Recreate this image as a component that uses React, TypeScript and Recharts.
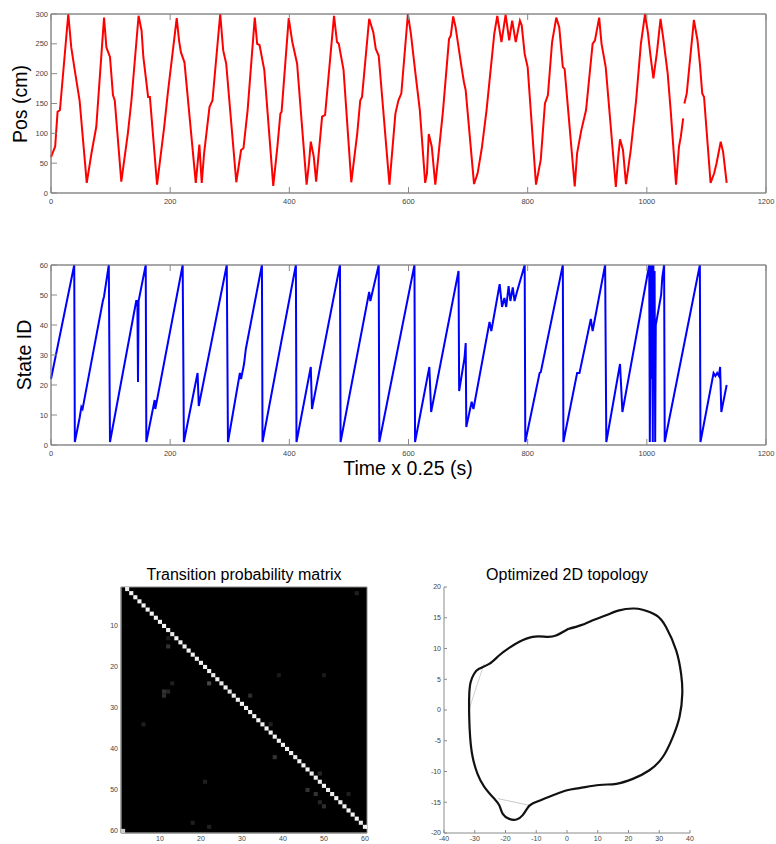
import React from "react";
import { LineChart, Line, XAxis, YAxis, ScatterChart, Scatter, ReferenceArea } from "recharts";

// axis ticks
const timeTicks = [0, 200, 400, 600, 800, 1000, 1200];
const posTicks = [0, 50, 100, 150, 200, 250, 300];
const stateTicks = [0, 10, 20, 30, 40, 50, 60];
const matrixTicks = [10, 20, 30, 40, 50, 60];
const topoXTicks = [-40, -30, -20, -10, 0, 10, 20, 30, 40];
const topoYTicks = [-20, -15, -10, -5, 0, 5, 10, 15, 20];

// position (cm) over time; null = gap in the trace
const posTrace: [number, number | null][] = [
  [0, 60], [7, 78], [11, 136], [15, 139], [29, 300], [34, 244], [40, 205], [48, 155], [60, 17],
  [68, 67], [76, 111], [89, 294], [93, 244], [99, 228], [104, 164], [107, 155], [118, 19],
  [129, 100], [135, 155], [147, 297], [152, 272], [155, 228], [163, 161], [166, 161], [178, 14],
  [190, 111], [196, 167], [211, 293], [215, 255], [218, 236], [224, 219], [243, 17], [249, 81],
  [253, 17], [257, 67], [266, 144], [271, 155], [284, 300], [289, 239], [294, 217], [311, 18],
  [319, 72], [323, 75], [330, 139], [342, 294], [346, 250], [350, 248], [358, 206], [373, 12],
  [380, 78], [385, 133], [387, 136], [399, 293], [405, 253], [413, 217], [429, 14], [433, 50],
  [436, 86], [441, 61], [445, 19], [455, 128], [460, 131], [475, 297], [480, 253], [483, 250],
  [491, 206], [504, 18], [514, 100], [519, 155], [522, 161], [534, 292], [541, 269], [545, 242],
  [550, 230], [568, 14], [578, 133], [583, 155], [588, 167], [599, 300], [604, 267], [611, 206],
  [619, 139], [628, 17], [631, 33], [634, 99], [639, 78], [645, 14], [650, 61], [658, 139],
  [668, 258], [671, 264], [675, 296], [679, 278], [689, 211], [693, 186], [696, 172], [710, 15],
  [716, 33], [723, 75], [731, 139], [744, 267], [749, 297], [756, 253], [763, 299], [769, 256],
  [774, 289], [780, 253], [787, 289], [790, 281], [795, 233], [800, 211], [814, 14], [822, 56],
  [829, 150], [834, 164], [841, 253], [848, 294], [853, 278], [859, 211], [862, 208], [879, 11],
  [883, 67], [890, 105], [898, 139], [909, 250], [913, 256], [920, 294], [924, 250], [931, 211],
  [948, 10], [952, 61], [955, 90], [960, 72], [965, 15], [973, 72], [982, 155], [990, 250],
  [997, 300], [1002, 267], [1006, 231], [1011, 192], [1017, 236], [1023, 292], [1028, 256],
  [1035, 200], [1040, 139], [1049, 14], [1054, 78], [1057, 94], [1061, 125], [1062, null],
  [1063, 150], [1067, 167], [1079, 290], [1085, 256], [1089, 217], [1093, 167], [1096, 161],
  [1107, 17], [1113, 33], [1117, 50], [1124, 86], [1128, 69], [1134, 17],
];

// decoded state id over time
const stateTrace: [number, number][] = [
  [0, 22], [39, 60], [40, 1], [48, 9], [51, 12.7], [53, 12], [87, 48], [89, 49.5], [97, 60],
  [99, 1], [143, 48], [145, 48], [146, 21], [147, 48], [149, 50], [159, 60], [160, 1], [174, 15],
  [175, 12], [177, 14], [221, 60], [223, 1], [246, 24], [248, 13], [295, 60], [297, 1], [317, 24],
  [319, 22], [324, 27], [327, 32], [354, 60], [355, 1], [388, 36], [390, 38], [411, 60], [412, 1],
  [436, 26], [438, 12], [485, 60], [486, 1], [534, 51], [536, 48], [550, 60], [551, 1], [610, 60],
  [611, 1], [635, 26], [638, 11], [684, 58], [685, 18], [694, 29], [696, 34], [697, 6], [706, 14.4],
  [709, 12], [736, 41], [739, 38], [753, 53.6], [757, 46], [761, 49], [764, 46], [768, 53], [771, 48],
  [775, 52.5], [778, 48], [782, 51], [795, 60], [796, 1], [820, 24], [822, 24.3], [859, 60],
  [860, 1], [883, 24], [887, 24], [906, 42], [909, 38], [930, 60], [932, 1], [955, 27], [959, 11],
  [1004, 60], [1005, 1], [1007, 60], [1008, 22], [1009, 60], [1010, 1], [1011, 60], [1012, 20],
  [1013, 58], [1014, 1], [1015, 40], [1024, 50], [1026, 56], [1029, 60], [1030, 1], [1089, 60],
  [1090, 1], [1112, 24], [1115, 23], [1118, 24], [1121, 23], [1123, 26], [1125, 11], [1134, 20],
];

// transition probability from state i to state i+1 (last row wraps to state 1)
const nextStateProb = [
  0.93, 0.95, 0.95, 0.94, 0.95, 0.95, 0.95, 0.95, 0.95, 0.95,
  0.94, 0.9, 0.95, 0.95, 0.93, 0.95, 0.95, 0.95, 0.95, 0.95,
  0.95, 0.92, 0.95, 0.9, 0.95, 0.9, 0.93, 0.95, 0.95, 0.95,
  0.95, 0.95, 0.95, 0.93, 0.95, 0.95, 0.95, 0.95, 0.95, 0.95,
  0.95, 0.93, 0.95, 0.95, 0.95, 0.93, 0.95, 0.93, 0.95, 0.92,
  0.92, 0.95, 0.93, 0.93, 0.95, 0.95, 0.95, 0.93, 0.95, 0.8,
];

// other non-zero entries: [row, col, prob]
const offDiagProb: [number, number, number][] = [
  [2, 58, 0.12], [13, 12, 0.1], [15, 12, 0.2], [24, 13, 0.12], [24, 22, 0.28], [26, 11, 0.2],
  [26, 12, 0.15], [27, 11, 0.18], [27, 32, 0.18], [22, 39, 0.1], [22, 50, 0.1], [34, 6, 0.12],
  [34, 37, 0.12], [42, 38, 0.2], [46, 49, 0.15], [48, 21, 0.12], [50, 46, 0.2], [51, 48, 0.2],
  [51, 56, 0.12], [53, 49, 0.15], [54, 50, 0.18], [58, 18, 0.12], [59, 22, 0.12],
];

// 2D embedding of the states (closed loop)
const topoLoop: [number, number][] = [
  [0.5, 13.2], [-3.6, 12.1], [-6.8, 11.9], [-11.2, 11.9], [-15.5, 11.1], [-18.8, 10.1],
  [-22, 8.9], [-25.3, 7.5], [-28.6, 6.7], [-30.2, 5.9], [-31.3, 4.6], [-31.8, 2.4],
  [-31.8, -1.1], [-31.5, -4.4], [-30.7, -7.6], [-29.1, -10.4], [-26.9, -12.5], [-23.7, -14.4],
  [-22, -15.5], [-20.9, -16.9], [-18.8, -17.7], [-16.4, -17.8], [-14.4, -17.1], [-12.8, -15.9],
  [-11.2, -15.2], [-6.8, -14.3], [-0.3, -13.1], [4, -12.7], [10.5, -12.2], [16, -12],
  [21.4, -11.2], [26.8, -9.8], [31.2, -7.6], [34.4, -4.4], [36.6, -1.1], [37.5, 2.7],
  [37.1, 5.9], [35.5, 9.7], [32.2, 13.5], [29, 15.4], [24.6, 16.3], [21.4, 16.5], [17, 16.2],
  [12.7, 15.4], [8.4, 14.6], [4.6, 13.8], [0.5, 13.2],
];
const topoChordA: [number, number][] = [[-27, 7.5], [-31.9, 0]];
const topoChordB: [number, number][] = [[-22.5, -14.4], [-12.3, -15.5]];

const FONT = "'Liberation Sans', Arial, Helvetica, sans-serif";
const FRAME = "#8a8a8a";

const posData = posTrace.map(([t, v]) => ({ t, pos: v }));
const stateData = stateTrace.map(([t, v]) => ({ t, state: v }));
const cells = [
  ...nextStateProb.map((p, i) => ({ row: i + 1, col: (i + 1) % 60 + 1, p })),
  ...offDiagProb.map(([row, col, p]) => ({ row, col, p })),
];
const loopData = topoLoop.map(([x, y]) => ({ x, y }));
const chordA = topoChordA.map(([x, y]) => ({ x, y }));
const chordB = topoChordB.map(([x, y]) => ({ x, y }));

// matlab-style inward ticks
const inTick =
  (side: string, gap: number, len: number, show: boolean, fs = 7.5) =>
  (props: any) => {
    const { x, y, payload } = props;
    const txt = { fontSize: fs, fill: "#444", stroke: "none", fontFamily: FONT };
    if (side === "bottom") {
      const ay = y - gap;
      return (
        <g>
          {len > 0 && <line x1={x} x2={x} y1={ay} y2={ay - len} stroke={FRAME} />}
          {show && <text x={x} y={y + fs * 0.8} textAnchor="middle" {...txt}>{payload.value}</text>}
        </g>
      );
    }
    if (side === "top") {
      const ay = y + gap;
      return <line x1={x} x2={x} y1={ay} y2={ay + len} stroke={FRAME} />;
    }
    if (side === "left") {
      const ax = x + gap;
      return (
        <g>
          {len > 0 && <line x1={ax} x2={ax + len} y1={y} y2={y} stroke={FRAME} />}
          {show && <text x={x} y={y + fs * 0.35} textAnchor="end" {...txt}>{payload.value}</text>}
        </g>
      );
    }
    const ax = x - gap;
    return <line x1={ax} x2={ax - len} y1={y} y2={y} stroke={FRAME} />;
  };

const MatrixCell = (props: any) => {
  const { cx, cy, payload } = props;
  const s = 246 / 60;
  const g = Math.round(payload.p * 255);
  return <rect x={cx - s / 2} y={cy - s / 2} width={s} height={s} fill={`rgb(${g},${g},${g})`} />;
};

const TimeChart = ({ data, dataKey, color, yTicks, top, height }: any) => {
  const yDomain = [yTicks[0], yTicks[yTicks.length - 1]];
  return (
    <div style={{ position: "absolute", left: 0, top, width: 776, height }}>
      <LineChart width={776} height={height} data={data} margin={{ top: 13, right: 9, left: 0, bottom: 0 }}>
        <XAxis xAxisId="b" dataKey="t" type="number" domain={[0, 1200]} ticks={timeTicks} height={22}
          stroke={FRAME} tickSize={0} tickMargin={5} tick={inTick("bottom", 5, 6, true)} interval={0} />
        <XAxis xAxisId="t" orientation="top" dataKey="t" type="number" domain={[0, 1200]} ticks={timeTicks}
          height={1} stroke={FRAME} tickSize={0} tickMargin={0} tick={inTick("top", 0, 6, false)} interval={0} />
        <YAxis yAxisId="l" type="number" domain={yDomain} ticks={yTicks}
          width={51} stroke={FRAME} tickSize={0} tickMargin={3} tick={inTick("left", 3, 6, true)} interval={0} />
        <YAxis yAxisId="r" orientation="right" type="number" domain={yDomain}
          ticks={yTicks} width={1} stroke={FRAME} tickSize={0} tickMargin={0} tick={inTick("right", 0, 6, false)} interval={0} />
        <ReferenceArea xAxisId="b" yAxisId="l" x1={0} x2={1200} y1={yDomain[0]} y2={yDomain[1]}
          fill="none" stroke={FRAME} strokeWidth={1} />
        <Line xAxisId="b" yAxisId="l" type="linear" dataKey={dataKey} stroke={color} strokeWidth={2}
          dot={false} isAnimationActive={false} connectNulls={false} />
      </LineChart>
    </div>
  );
};

const label = (text: string, cx: number, cy: number, size: number, rotate = 0) => (
  <div style={{
    position: "absolute", left: cx, top: cy, transform: `translate(-50%, -50%) rotate(${rotate}deg)`,
    fontFamily: FONT, fontSize: size, whiteSpace: "nowrap", lineHeight: 1, color: "#000",
  }}>{text}</div>
);

export default function App() {
  return (
    <div style={{ position: "absolute", left: 0, top: 0, width: 776, height: 844, background: "#fff", overflow: "hidden" }}>
      <TimeChart data={posData} dataKey="pos" color="#ff0000" yTicks={posTicks} top={0} height={215} />
      <TimeChart data={stateData} dataKey="state" color="#0000ff" yTicks={stateTicks} top={251} height={216} />
      {label("Pos (cm)", 21, 104, 19.5, -90)}
      {label("State ID", 25, 355, 19.5, -90)}
      {label("Time x 0.25 (s)", 408, 469, 19.5)}
      {label("Transition probability matrix", 244, 575, 16)}
      {label("Optimized 2D topology", 567, 575, 16)}

      <div style={{ position: "absolute", left: 90, top: 560, width: 290, height: 284 }}>
        <ScatterChart width={290} height={284} margin={{ top: 27, right: 13, left: 0, bottom: 0 }}>
          <XAxis dataKey="col" type="number" domain={[0.5, 60.5]} ticks={matrixTicks} height={11}
            stroke={FRAME} tickSize={0} tickMargin={2} tick={inTick("bottom", 2, 0, true, 7)} interval={0} />
          <YAxis dataKey="row" type="number" reversed domain={[0.5, 60.5]} ticks={matrixTicks} width={31}
            stroke={FRAME} tickSize={0} tickMargin={3} tick={inTick("left", 3, 0, true, 7)} interval={0} />
          <ReferenceArea x1={0.5} x2={60.5} y1={0.5} y2={60.5} fill="#000" fillOpacity={1} stroke={FRAME} />
          <Scatter data={cells} shape={<MatrixCell />} isAnimationActive={false} />
        </ScatterChart>
      </div>

      <div style={{ position: "absolute", left: 400, top: 560, width: 300, height: 284 }}>
        <LineChart width={300} height={284} margin={{ top: 27, right: 10, left: 0, bottom: 0 }}>
          <XAxis dataKey="x" type="number" domain={[-40, 40]} ticks={topoXTicks} height={11} allowDataOverflow
            stroke={FRAME} tickSize={0} tickMargin={2} tick={inTick("bottom", 2, 3, true, 7)} interval={0} />
          <YAxis dataKey="y" type="number" domain={[-20, 20]} ticks={topoYTicks} width={44} allowDataOverflow
            stroke={FRAME} tickSize={0} tickMargin={3} tick={inTick("left", 3, 3, true, 7)} interval={0} />
          <Line data={chordA} dataKey="y" type="linear" stroke="#d0d0d0" strokeWidth={1} dot={false} isAnimationActive={false} />
          <Line data={chordB} dataKey="y" type="linear" stroke="#c8c8c8" strokeWidth={1} dot={false} isAnimationActive={false} />
          <Line data={loopData} dataKey="y" type="natural" stroke="#111" strokeWidth={2.2} dot={false} isAnimationActive={false} />
        </LineChart>
      </div>
    </div>
  );
}
